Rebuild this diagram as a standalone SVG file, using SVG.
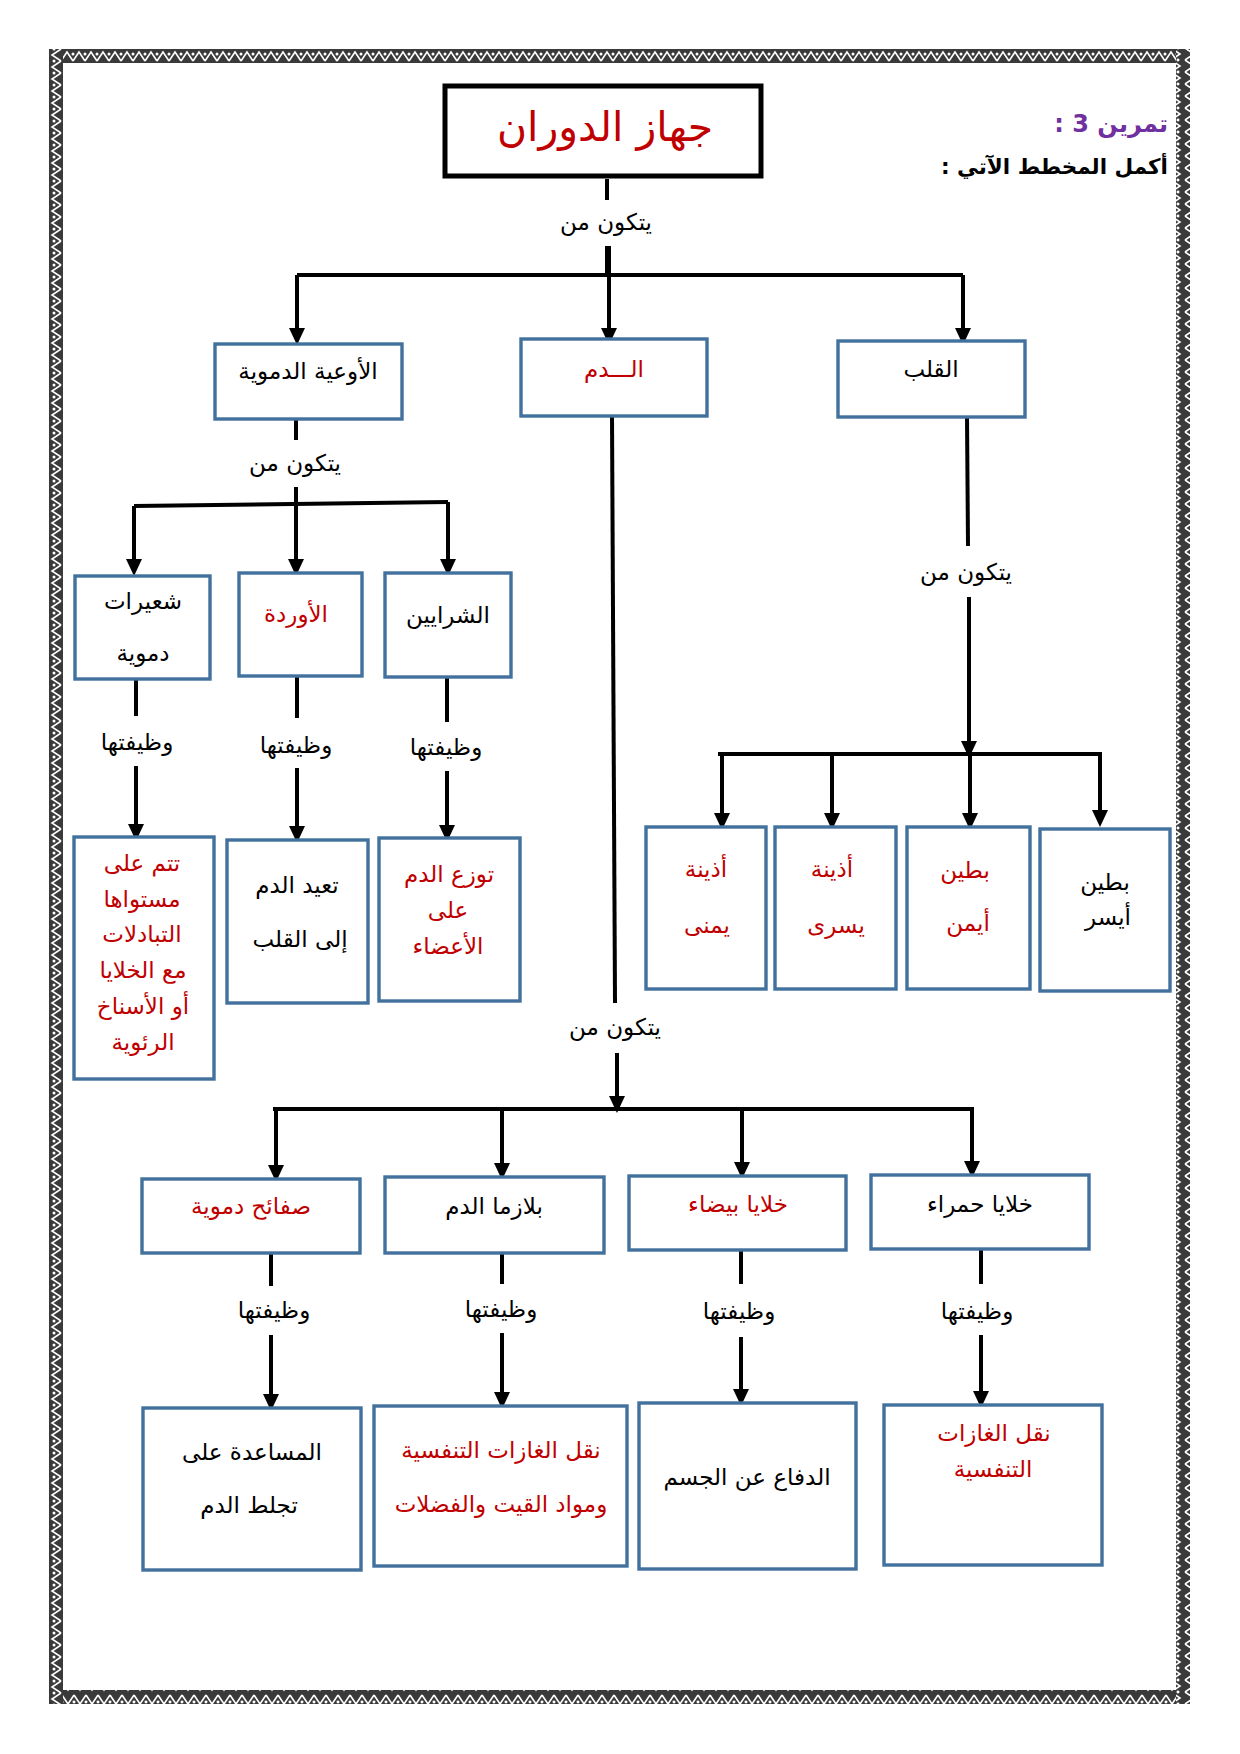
<svg xmlns="http://www.w3.org/2000/svg" width="1240" height="1754" viewBox="0 0 1240 1754">
<defs>
<pattern id="bh" patternUnits="userSpaceOnUse" width="12" height="14" x="49" y="49">
<rect width="12" height="14" fill="#3a3a3a"/>
<path d="M0,12 L6,3 L12,12" fill="none" stroke="#fff" stroke-width="1.6"/>
<circle cx="0" cy="5" r="1.5" fill="#fff"/>
<circle cx="12" cy="5" r="1.5" fill="#fff"/>
</pattern>
<pattern id="bv" patternUnits="userSpaceOnUse" width="14" height="12" x="49" y="49">
<rect width="14" height="12" fill="#3a3a3a"/>
<path d="M12,0 L3,6 L12,12" fill="none" stroke="#fff" stroke-width="1.6"/>
<circle cx="5" cy="0" r="1.5" fill="#fff"/>
<circle cx="5" cy="12" r="1.5" fill="#fff"/>
</pattern>
<marker id="ah" markerUnits="userSpaceOnUse" markerWidth="17" markerHeight="17" viewBox="0 0 17 17" refX="12" refY="8.5" orient="auto">
<path d="M0,0.5 L17,8.5 L0,16.5 z" fill="#000"/>
</marker>
<style>
.box{fill:#fff;stroke:#41719C;stroke-width:3.4}
.ln{fill:none;stroke:#000;stroke-width:4}
.ar{fill:none;stroke:#000;stroke-width:4;marker-end:url(#ah)}
text{font-family:"DejaVu Sans","Noto Sans",sans-serif;font-size:23px;text-anchor:middle;fill:#000}
.r{fill:#C00000}
.lb{font-size:23px}
</style>
</defs>
<rect width="1240" height="1754" fill="#fff"/>
<g id="border">
<rect x="49" y="49" width="1141" height="14" fill="url(#bh)"/>
<rect x="49" y="1690" width="1141" height="14" fill="url(#bh)" transform="rotate(180 619.5 1697)"/>
<rect x="49" y="49" width="14" height="1655" fill="url(#bv)"/>
<rect x="1176" y="49" width="14" height="1655" fill="url(#bv)" transform="rotate(180 1183 876.5)"/>
</g>
<g id="heading">
<text x="1168" y="132" direction="rtl" style="text-anchor:start;font-size:24px;font-weight:bold;fill:#7030A0">تمرين 3 :</text>
<text x="1168" y="174" direction="rtl" style="text-anchor:start;font-size:21.5px;font-weight:bold">أكمل المخطط الآتي :</text>
</g>
<g id="connectors">
<path class="ln" d="M607,179 L607,200"/>
<path class="ln" d="M607,246 L607,275 M297,275 L963,275"/>
<path class="ar" d="M297,275 L297,340"/>
<path class="ar" d="M609,246 L609,340"/>
<path class="ar" d="M963,275 L963,340"/>
<path class="ln" d="M296,419 L296,440"/>
<path class="ln" d="M134,506 L448,502"/>
<path class="ar" d="M296,487 L296,571"/>
<path class="ar" d="M134,506 L134,571"/>
<path class="ar" d="M448,502 L448,571"/>
<path class="ln" d="M136,679 L136,716"/>
<path class="ar" d="M136,766 L136,836"/>
<path class="ln" d="M297,676 L297,718"/>
<path class="ar" d="M297,768 L297,838"/>
<path class="ln" d="M447,677 L447,722"/>
<path class="ar" d="M447,771 L447,837"/>
<path class="ln" d="M967,417 L968,546"/>
<path class="ar" d="M969,597 L969,753"/>
<path class="ln" d="M718,754 L1102,754"/>
<path class="ar" d="M722,754 L722,825"/>
<path class="ar" d="M832,754 L832,825"/>
<path class="ar" d="M970,754 L970,825"/>
<path class="ar" d="M1100,754 L1100,822"/>
<path class="ln" d="M612,416 L615,1003"/>
<path class="ar" d="M617,1053 L617,1108"/>
<path class="ln" d="M273,1109 L974,1109"/>
<path class="ar" d="M276,1109 L276,1177"/>
<path class="ar" d="M502,1109 L502,1175"/>
<path class="ar" d="M742,1109 L742,1174"/>
<path class="ar" d="M972,1109 L972,1173"/>
<path class="ln" d="M271,1253 L271,1286"/>
<path class="ar" d="M271,1335 L271,1406"/>
<path class="ln" d="M502,1253 L502,1284"/>
<path class="ar" d="M502,1333 L502,1404"/>
<path class="ln" d="M741,1250 L741,1284"/>
<path class="ar" d="M741,1337 L741,1401"/>
<path class="ln" d="M981,1249 L981,1284"/>
<path class="ar" d="M981,1335 L981,1403"/>
</g>
<g id="labels">
<text class="lb" x="606" y="230">يتكون من</text>
<text class="lb" x="295" y="471">يتكون من</text>
<text class="lb" x="966" y="580">يتكون من</text>
<text class="lb" x="615" y="1035">يتكون من</text>
<text class="lb" x="137" y="750">وظيفتها</text>
<text class="lb" x="296" y="753">وظيفتها</text>
<text class="lb" x="446" y="755">وظيفتها</text>
<text class="lb" x="274" y="1318">وظيفتها</text>
<text class="lb" x="501" y="1317">وظيفتها</text>
<text class="lb" x="739" y="1319">وظيفتها</text>
<text class="lb" x="977" y="1319">وظيفتها</text>
</g>
<g id="n-title">
<rect x="445" y="86" width="316" height="90" fill="#fff" stroke="#000" stroke-width="5"/>
<text class="r" x="605" y="141" style="font-size:41px">جهاز الدوران</text>
</g>
<g id="n-vessels">
<rect class="box" x="215" y="344" width="187" height="75"/>
<text x="308" y="379">الأوعية الدموية</text>
</g>
<g id="n-blood">
<rect class="box" x="521" y="339" width="186" height="77"/>
<text class="r" x="614" y="377">الـــدم</text>
</g>
<g id="n-heart">
<rect class="box" x="838" y="341" width="187" height="76"/>
<text x="931" y="377">القلب</text>
</g>
<g id="n-capillaries">
<rect class="box" x="75" y="576" width="135" height="103"/>
<text x="143" y="609">شعيرات</text>
<text x="143" y="661">دموية</text>
</g>
<g id="n-veins">
<rect class="box" x="239" y="573" width="123" height="103"/>
<text class="r" x="296" y="622">الأوردة</text>
</g>
<g id="n-arteries">
<rect class="box" x="385" y="573" width="126" height="104"/>
<text x="448" y="623">الشرايين</text>
</g>
<g id="n-cap-fn">
<rect class="box" x="74" y="837" width="140" height="242"/>
<text class="r" x="142" y="871">تتم على</text>
<text class="r" x="142" y="907">مستواها</text>
<text class="r" x="142" y="942">التبادلات</text>
<text class="r" x="143" y="978">مع الخلايا</text>
<text class="r" x="143" y="1014">أو الأسناخ</text>
<text class="r" x="143" y="1050">الرئوية</text>
</g>
<g id="n-veins-fn">
<rect class="box" x="227" y="840" width="141" height="163"/>
<text x="297" y="893">تعيد الدم</text>
<text x="300" y="947">إلى القلب</text>
</g>
<g id="n-arteries-fn">
<rect class="box" x="379" y="838" width="141" height="163"/>
<text class="r" x="449" y="882">توزع الدم</text>
<text class="r" x="448" y="918">على</text>
<text class="r" x="448" y="954">الأعضاء</text>
</g>
<g id="n-ra">
<rect class="box" x="646" y="827" width="120" height="162"/>
<text class="r" x="706" y="877">أذينة</text>
<text class="r" x="707" y="933">يمنى</text>
</g>
<g id="n-la">
<rect class="box" x="775" y="827" width="121" height="162"/>
<text class="r" x="832" y="877">أذينة</text>
<text class="r" x="836" y="933">يسرى</text>
</g>
<g id="n-rv">
<rect class="box" x="907" y="827" width="123" height="162"/>
<text class="r" x="965" y="878">بطين</text>
<text class="r" x="968" y="931">أيمن</text>
</g>
<g id="n-lv">
<rect class="box" x="1040" y="829" width="130" height="162"/>
<text x="1105" y="890">بطين</text>
<text x="1108" y="925">أيسر</text>
</g>
<g id="n-platelets">
<rect class="box" x="142" y="1179" width="218" height="74"/>
<text class="r" x="251" y="1214">صفائح دموية</text>
</g>
<g id="n-plasma">
<rect class="box" x="385" y="1177" width="219" height="76"/>
<text x="494" y="1214">بلازما الدم</text>
</g>
<g id="n-wbc">
<rect class="box" x="629" y="1176" width="217" height="74"/>
<text class="r" x="738" y="1212">خلايا بيضاء</text>
</g>
<g id="n-rbc">
<rect class="box" x="871" y="1175" width="218" height="74"/>
<text x="980" y="1212">خلايا حمراء</text>
</g>
<g id="n-platelets-fn">
<rect class="box" x="143" y="1408" width="218" height="162"/>
<text x="252" y="1460">المساعدة على</text>
<text x="249" y="1513">تجلط الدم</text>
</g>
<g id="n-plasma-fn">
<rect class="box" x="374" y="1406" width="253" height="160"/>
<text class="r" x="501" y="1458">نقل الغازات التنفسية</text>
<text class="r" x="501" y="1512">ومواد القيت والفضلات</text>
</g>
<g id="n-wbc-fn">
<rect class="box" x="639" y="1403" width="217" height="166"/>
<text x="747" y="1485">الدفاع عن الجسم</text>
</g>
<g id="n-rbc-fn">
<rect class="box" x="884" y="1405" width="218" height="160"/>
<text class="r" x="994" y="1441">نقل الغازات</text>
<text class="r" x="993" y="1477">التنفسية</text>
</g>
</svg>
